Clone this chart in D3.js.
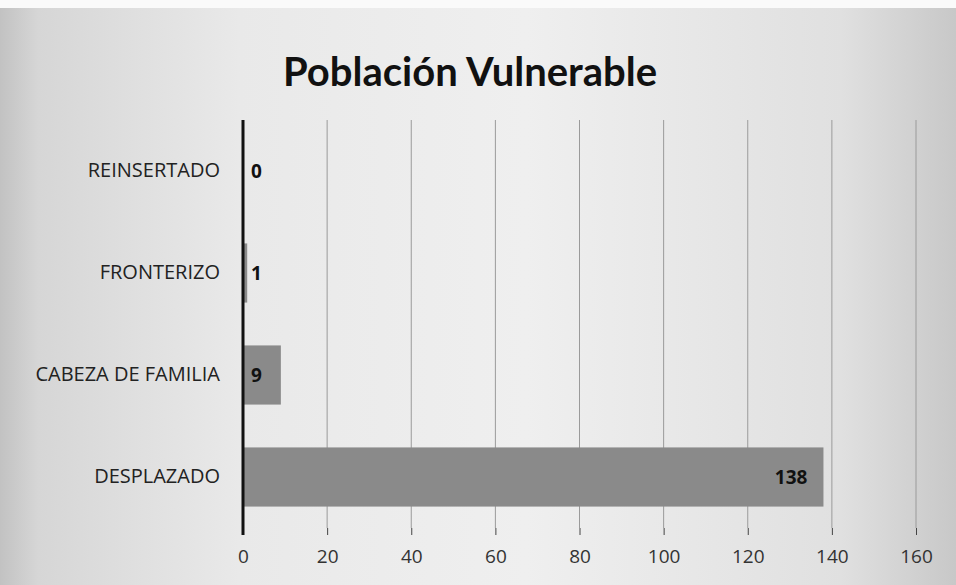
<!DOCTYPE html>
<html>
<head>
<meta charset="utf-8">
<script src="https://cdn.jsdelivr.net/npm/d3@7"></script>
<style>
  html, body { margin: 0; padding: 0; background: #fff; }
  svg { display: block; font-family: "Open Sans", Lato, sans-serif; }
</style>
</head>
<body>
<div id="chart"></div>
<script>
// data
var categories = ["REINSERTADO", "FRONTERIZO", "CABEZA DE FAMILIA", "DESPLAZADO"];
var values = [0, 1, 9, 138];
var xTicks = [0, 20, 40, 60, 80, 100, 120, 140, 160];

var width = 956, height = 585;
var margin = { top: 120, right: 40, bottom: 57, left: 243 };

var svg = d3.select("#chart")
  .append("svg")
  .attr("width", width)
  .attr("height", height);

// scanned-paper background
var defs = svg.append("defs");
var bg = defs.append("linearGradient").attr("id", "bg")
  .attr("x1", "0%").attr("x2", "100%").attr("y1", "0%").attr("y2", "0%");
bg.append("stop").attr("offset", "0%").attr("stop-color", "#c2c2c2");
bg.append("stop").attr("offset", "4%").attr("stop-color", "#d6d6d6");
bg.append("stop").attr("offset", "25%").attr("stop-color", "#e9e9e9");
bg.append("stop").attr("offset", "55%").attr("stop-color", "#efefef");
bg.append("stop").attr("offset", "88%").attr("stop-color", "#e0e0e0");
bg.append("stop").attr("offset", "100%").attr("stop-color", "#c8c8c8");

svg.append("rect")
  .attr("width", width).attr("height", height)
  .attr("fill", "url(#bg)");
svg.append("rect")
  .attr("width", width).attr("height", 8)
  .attr("fill", "#fafafa");

var x = d3.scaleLinear()
  .domain([0, 160])
  .range([margin.left, width - margin.right]);

var y = d3.scaleBand()
  .domain(categories)
  .range([margin.top, height - margin.bottom])
  .paddingInner(0.42)
  .paddingOuter(0.21);

// title
svg.append("text")
  .attr("x", 470)
  .attr("y", 86)
  .attr("text-anchor", "middle")
  .style("font-family", "Lato, 'Open Sans', sans-serif")
  .style("font-size", "40px")
  .style("font-weight", "bold")
  .style("fill", "#111")
  .text("Población Vulnerable");

// gridlines
svg.append("g")
  .selectAll("line")
  .data(xTicks.slice(1))
  .enter().append("line")
  .attr("x1", function (d) { return x(d); })
  .attr("x2", function (d) { return x(d); })
  .attr("y1", margin.top)
  .attr("y2", height - margin.bottom)
  .attr("stroke", "#9a9a9a")
  .attr("stroke-width", 1);

// bars
svg.append("g")
  .selectAll("rect")
  .data(values)
  .enter().append("rect")
  .attr("x", x(0))
  .attr("y", function (d, i) { return y(categories[i]); })
  .attr("width", function (d) { return x(d) - x(0); })
  .attr("height", y.bandwidth())
  .attr("fill", "#8a8a8a");

// x axis
var xAxis = svg.append("g")
  .attr("transform", "translate(0," + (height - margin.bottom) + ")")
  .call(d3.axisBottom(x).tickValues(xTicks).tickSize(7).tickPadding(15));
xAxis.select(".domain").remove();
xAxis.selectAll("line").attr("stroke", "#444");
xAxis.selectAll("text")
  .style("font-size", "19px")
  .style("font-family", "'Open Sans', sans-serif")
  .attr("fill", "#333");

// y axis
var yAxis = svg.append("g")
  .attr("transform", "translate(" + x(0) + ",0)")
  .call(d3.axisLeft(y).tickSize(0).tickPadding(23));
yAxis.select(".domain")
  .attr("stroke", "#111")
  .attr("stroke-width", 3)
  .attr("d", "M0," + (margin.top) + "V" + (height - margin.bottom + 7));
yAxis.selectAll("text")
  .style("font-size", "20px")
  .style("font-family", "'Open Sans', sans-serif")
  .attr("fill", "#222");

// value labels
svg.append("g")
  .selectAll("text")
  .data(values)
  .enter().append("text")
  .attr("x", function (d) { return (x(d) - x(0)) > 60 ? x(d) - 16 : x(0) + 8; })
  .attr("y", function (d, i) { return y(categories[i]) + y.bandwidth() / 2; })
  .attr("dy", "0.35em")
  .attr("text-anchor", function (d) { return (x(d) - x(0)) > 60 ? "end" : "start"; })
  .style("font-size", "19px")
  .style("font-weight", "bold")
  .attr("fill", "#111")
  .text(function (d) { return d; });
</script>
</body>
</html>
